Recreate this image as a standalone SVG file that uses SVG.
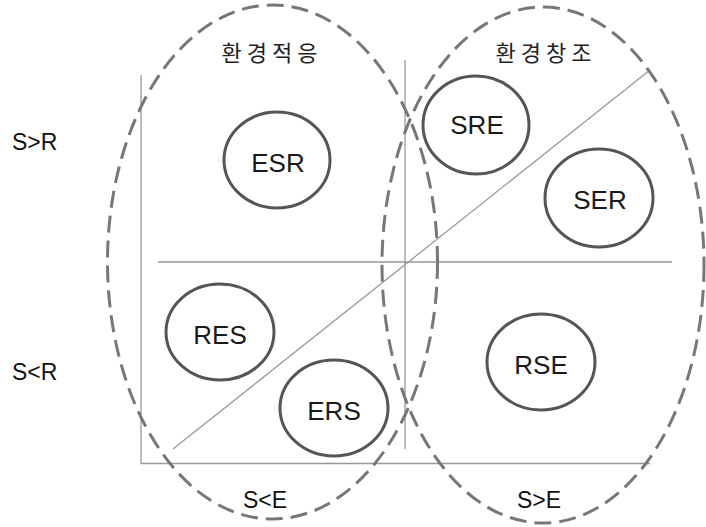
<svg xmlns="http://www.w3.org/2000/svg" width="706" height="527" viewBox="0 0 706 527">
<style>
.ax{stroke:#999;stroke-width:1.3;fill:none}
.dash{fill:none;stroke:#777;stroke-width:3;stroke-dasharray:17 8}
.node ellipse{fill:none;stroke:#555;stroke-width:3}
.lbl{font-family:"Liberation Sans",Arial,sans-serif;font-size:26px;fill:#1a1a1a;text-anchor:middle}
.side{font-family:"Liberation Sans",Arial,sans-serif;font-size:23px;fill:#111}
.kr{font-family:"Noto Sans CJK KR","Noto Sans",sans-serif;font-size:22px;fill:#222;text-anchor:middle;letter-spacing:5px}
</style>
<rect width="706" height="527" fill="#fff"/>
<g id="connectors">
<line class="ax" x1="141" y1="75" x2="141" y2="464"/>
<line class="ax" x1="141" y1="463.5" x2="650" y2="463.5"/>
<line class="ax" x1="405" y1="60" x2="405" y2="449"/>
<line class="ax" x1="158" y1="262" x2="672" y2="262"/>
<line class="ax" x1="173" y1="449" x2="650" y2="70"/>
</g>
<g id="group-adapt">
<ellipse class="dash" cx="272.5" cy="262" rx="165" ry="257"/>
<text class="kr" x="272" y="61">환경적응</text>
</g>
<g id="group-create">
<ellipse class="dash" cx="543" cy="265" rx="161" ry="258"/>
<text class="kr" x="546" y="61">환경창조</text>
</g>
<g id="ESR" class="node"><ellipse cx="277" cy="160" rx="53" ry="48"/><text class="lbl" x="278" y="172">ESR</text></g>
<g id="SRE" class="node"><ellipse cx="476" cy="125" rx="53" ry="49"/><text class="lbl" x="477" y="134">SRE</text></g>
<g id="SER" class="node"><ellipse cx="599" cy="198" rx="54" ry="49"/><text class="lbl" x="600" y="209">SER</text></g>
<g id="RES" class="node"><ellipse cx="220" cy="332" rx="54" ry="48"/><text class="lbl" x="220" y="344">RES</text></g>
<g id="ERS" class="node"><ellipse cx="334" cy="408" rx="54" ry="48"/><text class="lbl" x="334" y="420">ERS</text></g>
<g id="RSE" class="node"><ellipse cx="541" cy="362" rx="54" ry="48"/><text class="lbl" x="541" y="374">RSE</text></g>
<g id="axis-labels">
<text class="side" x="12" y="150">S&gt;R</text>
<text class="side" x="12" y="380">S&lt;R</text>
<text class="side" x="243" y="508">S&lt;E</text>
<text class="side" x="517" y="508">S&gt;E</text>
</g>
</svg>
